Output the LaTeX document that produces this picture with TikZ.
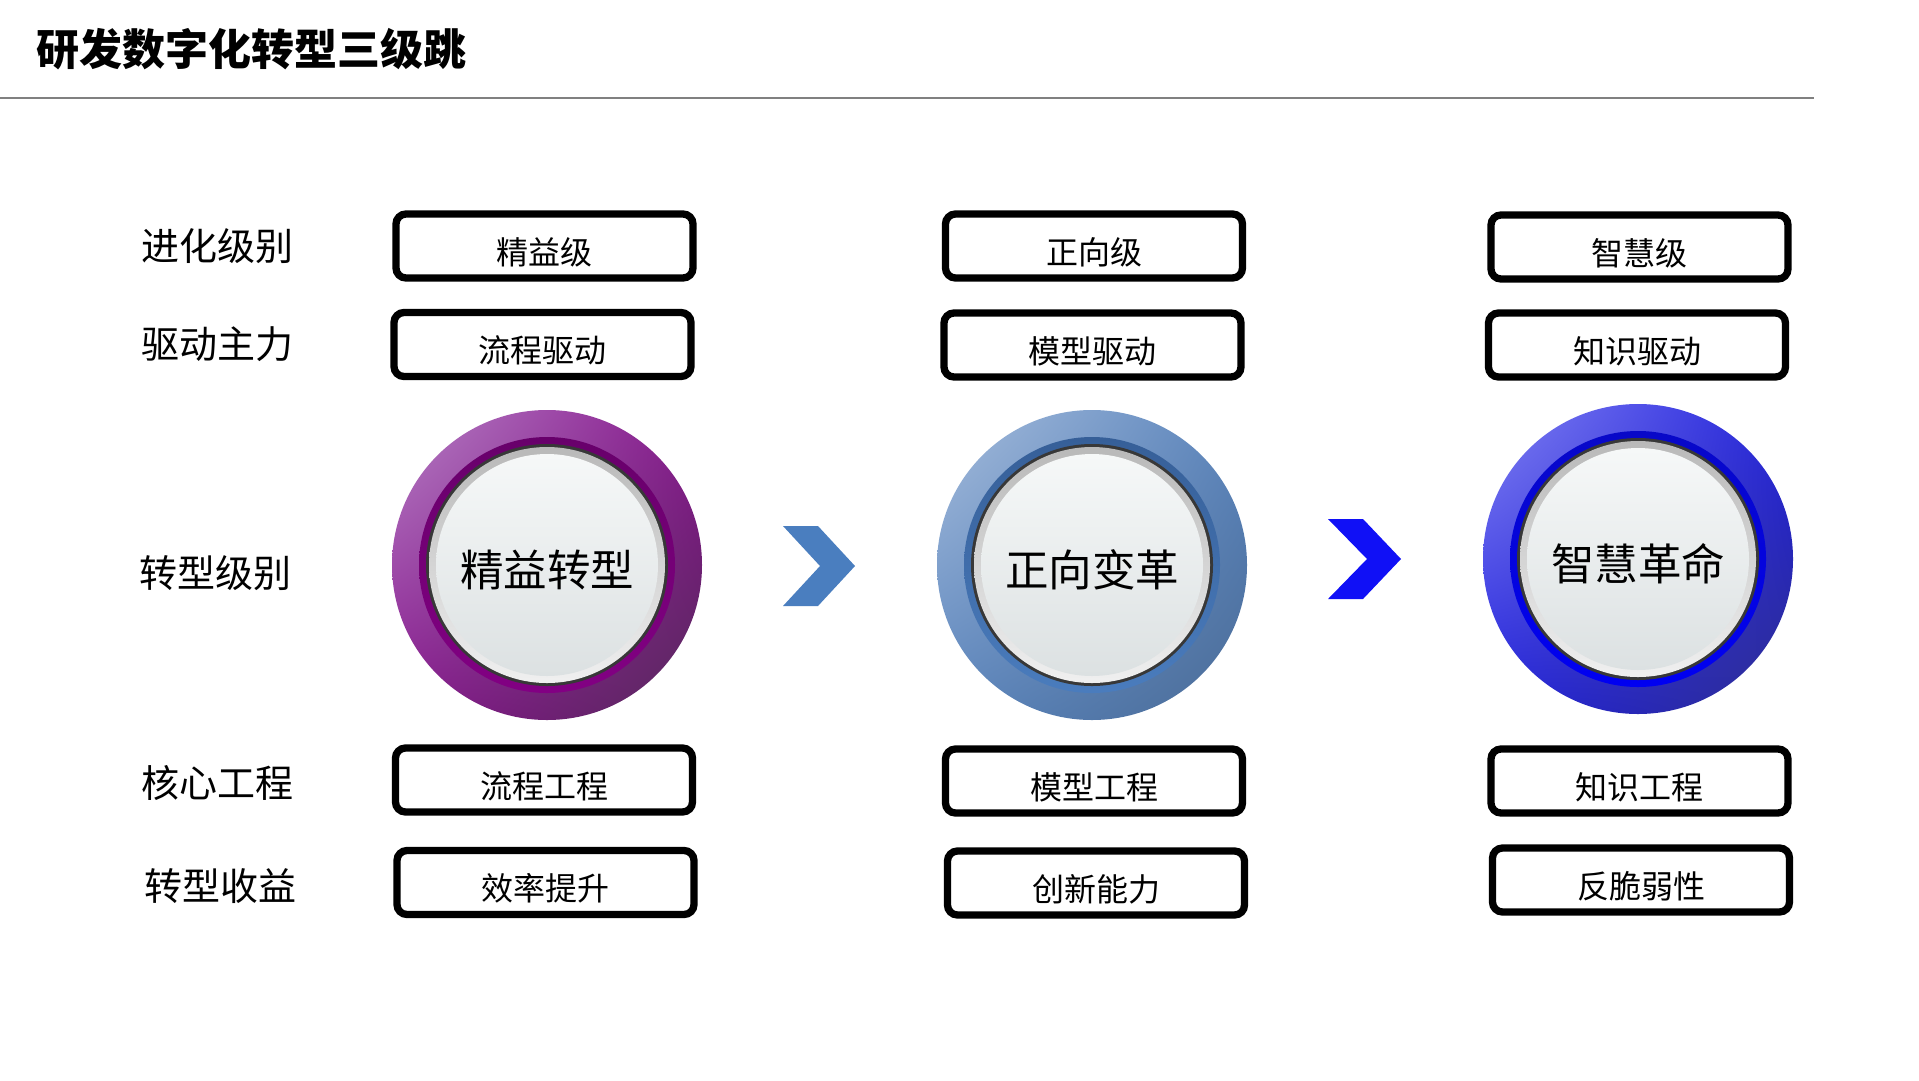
\documentclass[tikz,border=0pt]{standalone}
\usepackage{fontspec}
\setmainfont{Noto Sans CJK SC}
\usetikzlibrary{calc,shadings}
\definecolor{pA}{HTML}{B780C6}
\definecolor{pB}{HTML}{86168C}
\definecolor{pC}{HTML}{55295A}
\definecolor{pT}{HTML}{68006B}
\definecolor{pD}{HTML}{820083}
\definecolor{bA}{HTML}{A6BDDD}
\definecolor{bB}{HTML}{5A84BC}
\definecolor{bC}{HTML}{4A6B96}
\definecolor{bT}{HTML}{365F98}
\definecolor{bD}{HTML}{4A7CBD}
\definecolor{vA}{HTML}{8282F4}
\definecolor{vB}{HTML}{2121DC}
\definecolor{vC}{HTML}{2E2E8E}
\definecolor{vT}{HTML}{0808C8}
\definecolor{vD}{HTML}{0000F2}
\definecolor{chevA}{HTML}{4A7EBF}
\definecolor{chevB}{HTML}{1010F6}
\definecolor{rulegray}{HTML}{808080}
\definecolor{discTop}{HTML}{F6F8F8}
\definecolor{discBot}{HTML}{DCE1E2}
\newcommand\ringbtn[9]{%
  \shade[upper left=#4, upper right=#5, lower left=#5, lower right=#6] (#2,#3) circle[radius=155pt];
  \shade[top color=#7, bottom color=#8] (#2,#3) circle[radius=128pt];
  \fill[black!78] (#2,#3) circle[radius=121pt];
  \shade[top color=gray!55, bottom color=gray!12] (#2,#3) circle[radius=118pt];
  \node[disc] (#1) at (#2,#3) {};
  \node[circtext] (#1t) at ([yshift=-5pt]#1.center) {#9};
}
\newcommand\labbox[4]{%
  \node[databox] (#1) at (#2,#3) {};
  \node[boxtext] (#1t) at ([yshift=-6pt]#1.center) {#4};
}
\begin{document}
\begin{tikzpicture}[x=1pt,y=-1pt,
  databox/.style={draw=black, line width=7.3pt, rounded corners=10pt,
    minimum width=297pt, minimum height=64pt, fill=white, inner sep=0pt},
  boxtext/.style={font=\fontsize{32}{32}\selectfont, inner sep=0pt},
  rowlabel/.style={font=\fontsize{38}{38}\selectfont, inner sep=0pt},
  circtext/.style={font=\fontsize{43.5}{43.5}\selectfont, inner sep=0pt},
  disc/.style={circle, minimum size=222pt, inner sep=0pt,
    top color=discTop, bottom color=discBot}]
\fill[white] (0,0) rectangle (1919,1080);
\useasboundingbox (0,0) rectangle (1919,1080);

% title and rule
\node[anchor=west, inner sep=0pt, font=\fontsize{43}{43}\selectfont\bfseries] (title) at (36,49) {研发数字化转型三级跳};
\coordinate (ruleL) at (0,98);
\coordinate (ruleR) at (1814,98);
\draw[rulegray, line width=1.5pt] (ruleL) -- (ruleR);

% row labels
\node[rowlabel] (r1) at (217,246) {进化级别};
\node[rowlabel] (r2) at (217,344) {驱动主力};
\node[rowlabel] (r3) at (215,573) {转型级别};
\node[rowlabel] (r4) at (217,783) {核心工程};
\node[rowlabel] (r5) at (220,886) {转型收益};

% column 1
\labbox{a1}{544.5}{246}{精益级}
\labbox{a2}{542.5}{344.5}{流程驱动}
\labbox{a4}{544}{780}{流程工程}
\labbox{a5}{545.5}{882.5}{效率提升}
% column 2
\labbox{b1}{1094}{246}{正向级}
\labbox{b2}{1092.5}{345}{模型驱动}
\labbox{b4}{1094}{781}{模型工程}
\labbox{b5}{1096}{883}{创新能力}
% column 3
\labbox{c1}{1639.5}{247}{智慧级}
\labbox{c2}{1637}{345}{知识驱动}
\labbox{c4}{1639.5}{781}{知识工程}
\labbox{c5}{1641}{880}{反脆弱性}

% ring buttons
\ringbtn{k1}{547}{565}{pA}{pB}{pC}{pT}{pD}{精益转型}
\ringbtn{k2}{1092}{565}{bA}{bB}{bC}{bT}{bD}{正向变革}
\ringbtn{k3}{1638}{559}{vA}{vB}{vC}{vT}{vD}{智慧革命}

% chevrons
\fill[chevA] (783,526) -- (818,526) -- (855,566) -- (818,606) -- (783,606) -- (820,566) -- cycle;
\fill[chevB] (1328,519) -- (1363,519) -- (1401,559) -- (1363,599) -- (1328,599) -- (1367,559) -- cycle;
\end{tikzpicture}
\end{document}
